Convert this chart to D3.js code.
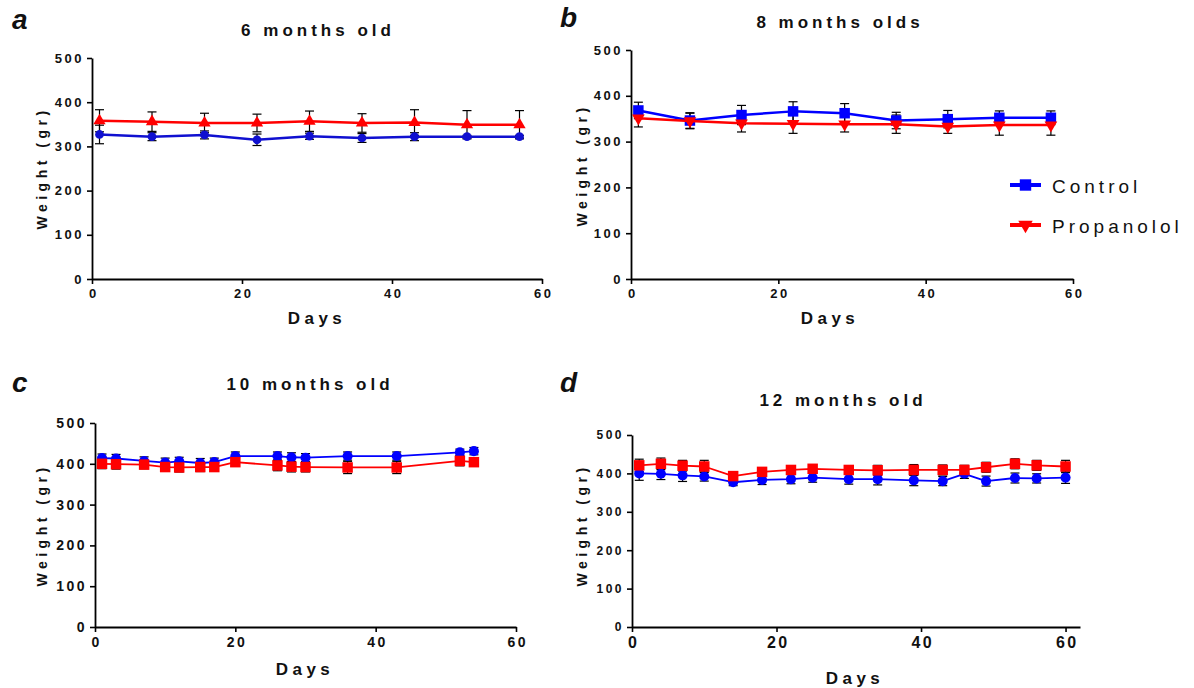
<!DOCTYPE html>
<html>
<head>
<meta charset="utf-8">
<script src="https://cdn.jsdelivr.net/npm/d3@7.9.0/dist/d3.min.js"></script>
<style>
  body { margin: 0; background: #fff; }
  svg { font-family: "Liberation Sans", Arial, sans-serif; }
</style>
</head>
<body>
<svg id="chart" width="1194" height="688"></svg>
<script>
// ---- data (weight in grams, mean +/- error) ----
const daysA = [1, 8, 15, 22, 29, 36, 43, 50, 57];
const ctrlA = [327, 322, 326, 315, 323, 319, 322, 322, 322];
const ctrlErrA = [21, 9, 9, 13, 7, 10, 9, 3, 3];
const propA = [358, 356, 353, 353, 357, 353, 354, 349, 349];
const propErrA = [25, 22, 22, 20, 23, 21, 29, 32, 32];

const daysB = [1, 8, 15, 22, 29, 36, 43, 50, 57];
const ctrlB = [368, 346, 358, 366, 362, 346, 349, 352, 352];
const ctrlErrB = [18, 17, 21, 21, 21, 18, 19, 15, 15];
const propB = [351, 345, 340, 339, 338, 338, 333, 336, 336];
const propErrB = [19, 17, 19, 21, 17, 20, 15, 22, 22];

const daysC = [1, 3, 7, 10, 12, 15, 17, 20, 26, 28, 30, 36, 43, 52, 54];
const ctrlC = [414, 413, 407, 403, 406, 402, 404, 419, 419, 416, 415, 419, 419, 428, 431];
const ctrlErrC = [10, 10, 10, 11, 10, 11, 10, 10, 10, 11, 10, 10, 10, 8, 9];
const propC = [400, 399, 398, 392, 391, 392, 392, 404, 396, 393, 392, 391, 391, 407, 404];
const propErrC = [12, 12, 10, 10, 11, 11, 10, 10, 13, 13, 12, 15, 15, 12, 10];

const daysD = [1, 4, 7, 10, 14, 18, 22, 25, 30, 34, 39, 43, 46, 49, 53, 56, 60];
const ctrlD = [400, 399, 395, 392, 377, 383, 385, 389, 385, 385, 382, 380, 399, 380, 388, 387, 389];
const ctrlErrD = [18, 15, 16, 12, 9, 12, 12, 12, 13, 15, 14, 12, 12, 13, 13, 12, 15];
const propD = [421, 425, 420, 418, 393, 404, 409, 412, 409, 408, 409, 409, 409, 416, 425, 421, 418];
const propErrD = [16, 15, 14, 16, 8, 11, 10, 10, 10, 13, 14, 13, 12, 13, 13, 13, 16];

const yTicks = [0, 100, 200, 300, 400, 500];
const xTicks = [0, 20, 40, 60];
const seriesNames = ['Control', 'Propanolol'];

// ---- layout ----
const svg = d3.select('#chart');

const panels = [
  { letter: 'a', title: '6 months old', days: daysA, ctrl: ctrlA, ctrlErr: ctrlErrA, prop: propA, propErr: propErrA,
    ctrlSym: 'circleSm', propSym: 'triangle', blue: '#1010d0',
    left: 92, right: 542, xMax: 60, top: 58, bottom: 279, lw: 2.5,
    titleX: 318, titleY: 36, letterX: 12, letterY: 29, daysX: 317, daysY: 324, wX: 47, wY: 168,
    xTickFont: 13, yTickFont: 13 },
  { letter: 'b', title: '8 months olds', days: daysB, ctrl: ctrlB, ctrlErr: ctrlErrB, prop: propB, propErr: propErrB,
    ctrlSym: 'square', propSym: 'triangleDown', blue: '#0000ff',
    left: 631, right: 1073, xMax: 60, top: 50, bottom: 279, lw: 2.5,
    titleX: 840, titleY: 28, letterX: 560, letterY: 27, daysX: 830, daysY: 324, wX: 587, wY: 165,
    xTickFont: 13, yTickFont: 13 },
  { letter: 'c', title: '10 months old', days: daysC, ctrl: ctrlC, ctrlErr: ctrlErrC, prop: propC, propErr: propErrC,
    ctrlSym: 'circle', propSym: 'square', blue: '#0000ff',
    left: 95, right: 516, xMax: 60, top: 423, bottom: 627, lw: 1.8,
    titleX: 310, titleY: 390, letterX: 12, letterY: 392, daysX: 305, daysY: 675, wX: 47, wY: 525,
    xTickFont: 14, yTickFont: 14 },
  { letter: 'd', title: '12 months old', days: daysD, ctrl: ctrlD, ctrlErr: ctrlErrD, prop: propD, propErr: propErrD,
    ctrlSym: 'circle', propSym: 'square', blue: '#0000ff',
    left: 632, right: 1080, xMax: 62, top: 435, bottom: 627, lw: 1.8,
    titleX: 843, titleY: 406, letterX: 560, letterY: 392, daysX: 855, daysY: 684, wX: 587, wY: 525,
    xTickFont: 16, yTickFont: 12 }
];

const symbolTypes = {
  circleSm: { type: d3.symbolCircle, size: 60, rot: 0 },
  circle: { type: d3.symbolCircle, size: 80, rot: 0 },
  square: { type: d3.symbolSquare, size: 110, rot: 0 },
  triangle: { type: d3.symbolTriangle, size: 65, rot: 0 },
  triangleDown: { type: d3.symbolTriangle, size: 70, rot: 180 },
  squareLg: { type: d3.symbolSquare, size: 130, rot: 0 },
  triangleDownLg: { type: d3.symbolTriangle, size: 90, rot: 180 }
};

function drawMarkers(g, data, symName, color) {
  const s = symbolTypes[symName];
  g.selectAll(null)
    .data(data)
    .join('path')
    .attr('d', d3.symbol().type(s.type).size(s.size))
    .attr('transform', d => `translate(${d[0]},${d[1]}) rotate(${s.rot})`)
    .attr('fill', color);
}

panels.forEach(p => {
  const x = d3.scaleLinear().domain([0, p.xMax]).range([p.left, p.right]);
  const y = d3.scaleLinear().domain([0, 500]).range([p.bottom, p.top]);
  const g = svg.append('g');

  // axes
  const yAxis = g.append('g')
    .attr('transform', `translate(${p.left},0)`)
    .call(d3.axisLeft(y).tickValues(yTicks).tickSize(5).tickPadding(3).tickSizeOuter(0));
  const xAxis = g.append('g')
    .attr('transform', `translate(0,${p.bottom})`)
    .call(d3.axisBottom(x).tickValues(xTicks).tickSize(5).tickPadding(5).tickSizeOuter(0));

  [yAxis, xAxis].forEach(ax => {
    ax.select('.domain').attr('stroke', '#000').attr('stroke-width', 1.8);
    ax.selectAll('.tick line').attr('stroke', '#000').attr('stroke-width', 1.6);
    ax.selectAll('.tick text')
      .attr('fill', '#111')
      .style('font-weight', 'bold')
      .style('font-family', '"Liberation Sans", Arial, sans-serif');
  });
  yAxis.selectAll('.tick text').style('font-size', p.yTickFont + 'px').style('letter-spacing', '2.5px');
  xAxis.selectAll('.tick text').style('font-size', p.xTickFont + 'px').style('letter-spacing', '2.5px')
    .attr('dx', '1.25px');

  // series
  const series = [
    { vals: p.ctrl, err: p.ctrlErr, color: p.blue, sym: p.ctrlSym },
    { vals: p.prop, err: p.propErr, color: '#ff0000', sym: p.propSym }
  ];

  const line = d3.line().x(d => x(d[0])).y(d => y(d[1]));

  // error bars (behind symbols)
  series.forEach(s => {
    const eb = g.append('g').attr('stroke', '#000').attr('stroke-width', 1.2).attr('fill', 'none');
    p.days.forEach((dd, i) => {
      const cx = x(dd), hi = y(s.vals[i] + s.err[i]), lo = y(s.vals[i] - s.err[i]);
      eb.append('line').attr('x1', cx).attr('x2', cx).attr('y1', hi).attr('y2', lo);
      eb.append('line').attr('x1', cx - 4.5).attr('x2', cx + 4.5).attr('y1', hi).attr('y2', hi);
      eb.append('line').attr('x1', cx - 4.5).attr('x2', cx + 4.5).attr('y1', lo).attr('y2', lo);
    });
  });

  series.forEach(s => {
    const pts = p.days.map((dd, i) => [dd, s.vals[i]]);
    g.append('path')
      .datum(pts)
      .attr('d', line)
      .attr('fill', 'none')
      .attr('stroke', s.color)
      .attr('stroke-width', p.lw)
      .attr('stroke-linejoin', 'round');
    drawMarkers(g, pts.map(q => [x(q[0]), y(q[1])]), s.sym, s.color);
  });

  // texts
  g.append('text')
    .attr('x', p.titleX).attr('y', p.titleY)
    .attr('text-anchor', 'middle')
    .style('font-size', '17px').style('font-weight', 'bold').style('letter-spacing', '4px')
    .attr('fill', '#111')
    .text(p.title);

  g.append('text')
    .attr('x', p.letterX).attr('y', p.letterY)
    .style('font-size', '28px').style('font-weight', 'bold').style('font-style', 'italic')
    .attr('fill', '#111')
    .text(p.letter);

  g.append('text')
    .attr('x', p.daysX).attr('y', p.daysY)
    .attr('text-anchor', 'middle')
    .style('font-size', '17px').style('font-weight', 'bold').style('letter-spacing', '4.5px')
    .attr('fill', '#111')
    .text('Days');

  g.append('text')
    .attr('transform', `translate(${p.wX},${p.wY}) rotate(-90)`)
    .attr('text-anchor', 'middle')
    .style('font-size', '14px').style('font-weight', 'bold').style('letter-spacing', '4.5px')
    .attr('fill', '#111')
    .text('Weight (gr)');
});

// legend
const legendItems = [
  { name: seriesNames[0], color: '#0000ff', sym: 'squareLg' },
  { name: seriesNames[1], color: '#ff0000', sym: 'triangleDownLg' }
];
const legend = svg.append('g').attr('transform', 'translate(1010,185)');
legendItems.forEach((it, i) => {
  const gy = i * 40;
  legend.append('line')
    .attr('x1', 0).attr('x2', 31).attr('y1', gy).attr('y2', gy)
    .attr('stroke', it.color).attr('stroke-width', 4);
  drawMarkers(legend, [[15.5, gy]], it.sym, it.color);
  legend.append('text')
    .attr('x', 42).attr('y', gy + 8)
    .style('font-size', '19px').style('letter-spacing', '4px')
    .attr('fill', '#111')
    .text(it.name);
});
</script>
</body>
</html>
